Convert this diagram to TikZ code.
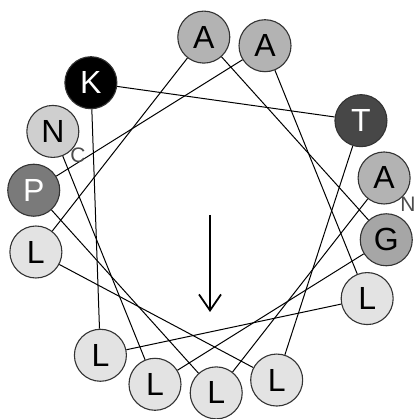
\documentclass[tikz,border=0pt]{standalone}
\usepackage{fontspec}
\setmainfont{Liberation Sans}
\usepackage{tikz}
\usetikzlibrary{arrows.meta}
\definecolor{leuGray}{HTML}{E3E3E3}
\definecolor{asnGray}{HTML}{CFCFCF}
\definecolor{alaGray}{HTML}{B3B3B3}
\definecolor{glyGray}{HTML}{A6A6A6}
\definecolor{proGray}{HTML}{7A7A7A}
\definecolor{thrGray}{HTML}{474747}
\definecolor{rimGray}{HTML}{333333}
\tikzstyle{res} = [circle, draw=rimGray, line width=1.1pt, minimum size=52pt, inner sep=0pt, font=\fontsize{32}{32}\selectfont]
\tikzstyle{link} = [line width=1pt]
\tikzstyle{term} = [text=black!70, font=\fontsize{21}{21}\selectfont]

\begin{document}
\begin{tikzpicture}[x=1pt,y=1pt]
	\useasboundingbox (-210,-204) rectangle (208,215);
	
	%Residues
	\node [res, fill=alaGray] (alaOne) at (12:178) {A};
	\node [res, fill=leuGray] (leuOne) at (-88:178) {L};
	\node [res, fill=proGray, text=white] (pro) at (172:178) {P};
	\node [res, fill=alaGray] (alaTwo) at (72:178) {A};
	\node [res, fill=leuGray] (leuTwo) at (-28:178) {L};
	\node [res, fill=leuGray] (leuThree) at (-128:178) {L};
	\node [res, fill=black, text=white] (lys) at (132:178) {K};
	\node [res, fill=thrGray, text=white] (thr) at (32:178) {T};
	\node [res, fill=leuGray] (leuFour) at (-68:178) {L};
	\node [res, fill=leuGray] (leuFive) at (-168:178) {L};
	\node [res, fill=alaGray] (alaThree) at (92:178) {A};
	\node [res, fill=glyGray] (gly) at (-8:178) {G};
	\node [res, fill=leuGray] (leuSix) at (-108:178) {L};
	\node [res, fill=asnGray] (asn) at (152:178) {N};
	
	%Links
	\draw[link] (alaOne) -- (leuOne);
	\draw[link] (leuOne) -- (pro);
	\draw[link] (pro) -- (alaTwo);
	\draw[link] (alaTwo) -- (leuTwo);
	\draw[link] (leuTwo) -- (leuThree);
	\draw[link] (leuThree) -- (lys);
	\draw[link] (lys) -- (thr);
	\draw[link] (thr) -- (leuFour);
	\draw[link] (leuFour) -- (leuFive);
	\draw[link] (leuFive) -- (alaThree);
	\draw[link] (alaThree) -- (gly);
	\draw[link] (gly) -- (leuSix);
	\draw[link] (leuSix) -- (asn);
	
	%Termini
	\node [term] (nTerm) at (198,11) {N};
	\node [term] (cTerm) at (-132,60) {C};
	
	%Moment
	\coordinate (momentStart) at (0,0);
	\coordinate (momentEnd) at (0,-97);
	\draw[line width=1.8pt, -{Straight Barb[length=16pt,width=22pt,line width=1.8pt]}] (momentStart) -- (momentEnd);
\end{tikzpicture}
\end{document}
